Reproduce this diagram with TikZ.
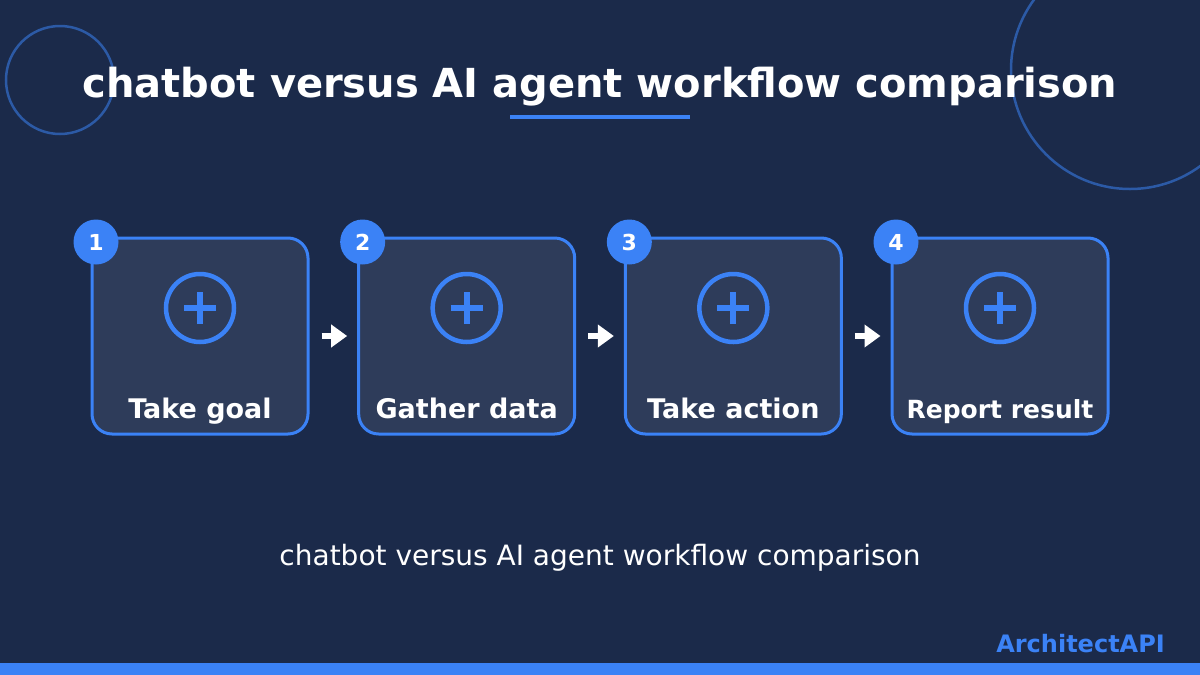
\documentclass[tikz,border=0pt]{standalone}
\usepackage{fontspec}
\setmainfont{DejaVu Sans}
\usetikzlibrary{positioning,arrows.meta}
\definecolor{pageNavy}{HTML}{1B2A4A}
\definecolor{cardFill}{HTML}{2E3C5A}
\definecolor{accentBlue}{HTML}{3B82F6}
\definecolor{ringBlue}{HTML}{2C5AA6}

\begin{document}
\begin{tikzpicture}[x=1pt, y=-1pt,
  card/.style={draw=accentBlue, line width=3pt, fill=cardFill, rounded corners=20pt,
    minimum width=216pt, minimum height=196pt, inner sep=0pt},
  badge/.style={circle, fill=accentBlue, minimum size=45pt, inner sep=0pt, text=white,
    font=\fontsize{22}{26}\selectfont\bfseries},
  ring/.style={circle, draw=accentBlue, line width=4.5pt, minimum size=68pt, inner sep=0pt},
  cardlabel/.style={anchor=base, text=white, font=\fontsize{27}{30}\selectfont\bfseries},
  flow/.style={-{Triangle[length=16pt,width=22pt]}, draw=white, line width=6pt,
    shorten <=12pt, shorten >=10pt}]
\clip (0,0) rectangle (1200,675);
\fill[pageNavy] (0,0) rectangle (1200,675);
% decorative rings
\draw[ringBlue, line width=2.5pt] (60,80) circle[radius=54];
\draw[ringBlue, line width=2.5pt] (1130,70) circle[radius=119];

% heading
\node[anchor=base, text=white, font=\fontsize{40}{44}\selectfont\bfseries] (title) at (600,97)
  {chatbot versus AI agent workflow comparison};
\draw[accentBlue, line width=3.5pt] (510,117) -- (690,117);

% the four steps
\node[card] (take) at (200,336) {};
\node[card, right=47.67pt of take] (gather) {};
\node[card, right=47.67pt of gather] (act) {};
\node[card, right=47.67pt of act] (report) {};

\foreach \n/\num/\t/\fs in {take/1/Take goal/27, gather/2/Gather data/27,
    act/3/Take action/27, report/4/Report result/25} {
  \node[ring] (\n icon) at ([yshift=28pt]\n.center) {};
  \draw[accentBlue, line width=6pt] ([xshift=-16pt]\n icon.center) -- ([xshift=16pt]\n icon.center);
  \draw[accentBlue, line width=6pt] ([yshift=-16pt]\n icon.center) -- ([yshift=16pt]\n icon.center);
  \node[cardlabel, font=\fontsize{\fs}{30}\selectfont\bfseries] (\n label) at ([yshift=17pt]\n.south) {\t};
  \node[badge] (\n badge) at ([xshift=5.5pt,yshift=-5.5pt]\n.north west) {\num};
}

\draw[flow] (take) -- (gather);
\draw[flow] (gather) -- (act);
\draw[flow] (act) -- (report);

% footer
\node[anchor=base, text=white, font=\fontsize{28}{32}\selectfont] (subtitle) at (600,565)
  {chatbot versus AI agent workflow comparison};
\node[anchor=base east, inner sep=0pt, text=accentBlue, font=\fontsize{24}{28}\selectfont\bfseries] (brand) at (1165,652)
  {ArchitectAPI};
\fill[accentBlue] (0,663) rectangle (1200,675);
\end{tikzpicture}
\end{document}
